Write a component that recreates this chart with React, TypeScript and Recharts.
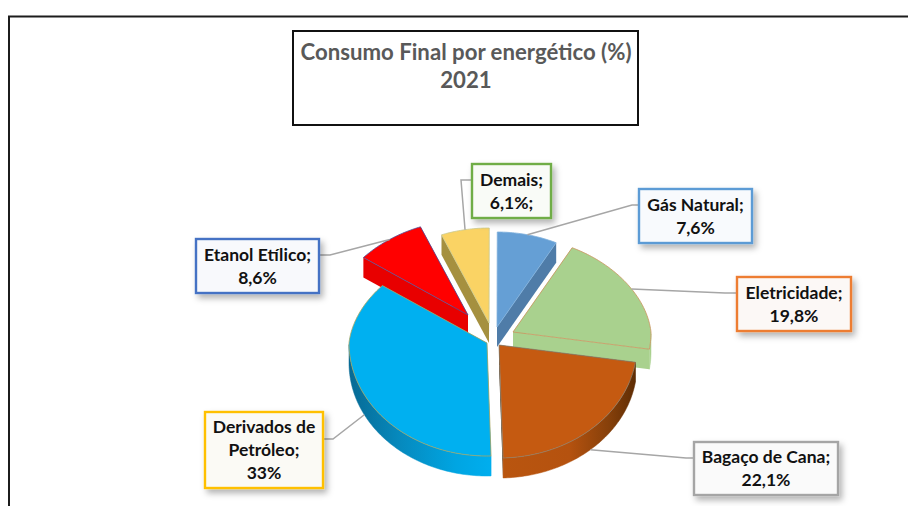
import React from 'react';
import { PieChart, Pie } from 'recharts';

// starts at Etanol so that Derivados is painted last and overlaps the red wedge
const categories = ['Etanol Etílico', 'Demais', 'Gás Natural', 'Eletricidade', 'Bagaço de Cana', 'Derivados de Petróleo'];
// the slice itself measures ~35.8 (completes 100%), even though its label says 33%
const values = [8.6, 6.1, 7.6, 19.8, 22.1, 35.8];
const labelLines = [
  ['Etanol Etílico;', '8,6%'],
  ['Demais;', '6,1%;'],
  ['Gás Natural;', '7,6%'],
  ['Eletricidade;', '19,8%'],
  ['Bagaço de Cana;', '22,1%'],
  ['Derivados de', 'Petróleo;', '33%'],
];
const titleLines = ['Consumo Final por energético (%)', '2021'];

const data = categories.map((name, i) => ({ name, value: values[i] }));

const FONT = 'Lato, sans-serif';
const CX = 490;
const CY = 335;
const RADIUS = 138;
const REAR = 95 / 138; // the far half of the disc looks flatter than the near half
const FRONT = 113 / 138;
const NARROW = 0.08; // and a bit narrower, perspective
const DEPTH = 20;

type SliceStyle = {
  dx: number; dy: number; top: string; side: string; rim: string; edge: string;
  box: [number, number, number, number]; border: string; boxFill: string; elbow: [number, number][];
};

const sliceStyles: SliceStyle[] = [
  { dx: -22, dy: -20, top: '#ff0000', side: '#e80000', rim: '#e80000', edge: '#4f4f9a', box: [196, 239, 123, 54], border: '#4472c4', boxFill: '#f8f9fc', elbow: [[330, 255], [319, 255]] },
  { dx: -1, dy: -12, top: '#fad364', side: '#a5903f', rim: '#a5903f', edge: '#c9c98f', box: [472, 164, 79, 54], border: '#70ad47', boxFill: '#f9fbf7', elbow: [[461, 180], [472, 180]] },
  { dx: 7, dy: -8, top: '#659fd5', side: '#4f7ca8', rim: '#4f7ca8', edge: '#7fb0dc', box: [639, 189, 113, 54], border: '#5b9bd5', boxFill: '#f8fafd', elbow: [[632, 205], [639, 205]] },
  { dx: 23, dy: -3, top: '#a9d18e', side: '#a9d18e', rim: '#a9d18e', edge: '#cc9460', box: [737, 277, 114, 54], border: '#ed7d31', boxFill: '#fcf8f6', elbow: [[725, 293], [737, 293]] },
  { dx: 9, dy: 10, top: '#c55a11', side: '#3a2a15', rim: 'url(#rimBrown)', edge: '#8f7f6a', box: [694, 442, 144, 53], border: '#a5a5a5', boxFill: '#fafafa', elbow: [[686, 458], [694, 458]] },
  { dx: -3, dy: 8, top: '#00b0f0', side: '#00a5e2', rim: 'url(#rimBlue)', edge: '#a9a65f', box: [205, 412, 118, 76], border: '#ffc000', boxFill: '#fbfaf5', elbow: [[333, 439], [323, 439]] },
];

const rad = (deg: number) => (deg * Math.PI) / 180;

// flattens a point of the circle onto the tilted disc
const project = (angle: number, r: number) => {
  const s = Math.sin(rad(angle));
  const narrow = s > 0 ? 1 - NARROW * s : 1;
  return { x: Math.cos(rad(angle)) * r * narrow, y: -s * r * (s > 0 ? REAR : FRONT) };
};

const toPath = (pts: { x: number; y: number }[]) =>
  pts.map((p, i) => `${i ? 'L' : 'M'}${p.x.toFixed(2)},${p.y.toFixed(2)}`).join(' ') + ' Z';

const arcPoints = (start: number, end: number, r: number, ox: number, oy: number) => {
  const steps = Math.max(2, Math.ceil(Math.abs(start - end)));
  const pts = [];
  for (let i = 0; i <= steps; i++) {
    const p = project(start + ((end - start) * i) / steps, r);
    pts.push({ x: ox + p.x, y: oy + p.y });
  }
  return pts;
};

function Slice(props: any) {
  const { cx, cy, outerRadius, startAngle, endAngle } = props;
  const st = sliceStyles[categories.indexOf(props.name ?? props.payload?.name)];
  const ox = cx + st.dx;
  const oy = cy + st.dy;
  const arc = arcPoints(startAngle, endAngle, outerRadius, ox, oy);
  const apex = { x: ox, y: oy };
  const down = (p: { x: number; y: number }) => ({ x: p.x, y: p.y + DEPTH });

  // near part of the outer wall
  const steps = Math.max(2, Math.ceil(Math.abs(startAngle - endAngle)));
  const near = [];
  for (let i = 0; i <= steps; i++) {
    const a = startAngle + ((endAngle - startAngle) * i) / steps;
    if (Math.sin(rad(a)) <= 0.001) near.push(arc[i]);
  }

  return (
    <g>
      <path d={toPath([apex, arc[0], down(arc[0]), down(apex)])} fill={st.side} />
      <path d={toPath([apex, arc[arc.length - 1], down(arc[arc.length - 1]), down(apex)])} fill={st.side} />
      {near.length > 1 && (
        <path d={toPath([...near, ...near.map(down).reverse()])} fill={st.rim} stroke={st.rim} strokeWidth={0.5} />
      )}
      <path d={toPath([apex, ...arc])} fill={st.top} stroke={st.edge} strokeWidth={0.8} strokeLinejoin="round" />
    </g>
  );
}

function SliceLabel(props: any) {
  const { cx, cy, outerRadius, midAngle, index } = props;
  const st = sliceStyles[index];
  const [x, y, w, h] = st.box;
  const p = project(midAngle, outerRadius);
  const startX = cx + st.dx + p.x;
  const startY = cy + st.dy + p.y + (Math.sin(rad(midAngle)) < 0 ? DEPTH : 0);
  const leader = [[startX, startY], ...st.elbow].map((q) => q.join(',')).join(' ');
  const lines = labelLines[index];
  const lineHeight = 23;
  const firstY = y + h / 2 - ((lines.length - 1) * lineHeight) / 2 + 6;
  return (
    <g>
      <polyline points={leader} fill="none" stroke="#a6a6a6" strokeWidth={1.5} />
      <rect x={x} y={y} width={w} height={h} fill={st.boxFill} stroke={st.border} strokeWidth={2.4} filter="url(#boxShadow)" />
      {lines.map((line, i) => (
        <text key={line} x={x + w / 2} y={firstY + i * lineHeight} textAnchor="middle" fontFamily={FONT} fontWeight={700} fontSize={17.5} fill="#111111">
          {line}
        </text>
      ))}
    </g>
  );
}

export default function App() {
  return (
    <div style={{ position: 'absolute', left: 0, top: 0, width: 908, height: 506, overflow: 'hidden', background: '#ffffff' }}>
      <PieChart width={908} height={506} margin={{ top: 0, right: 0, bottom: 0, left: 0 }}>
        <defs>
          <filter id="boxShadow" x="-15%" y="-20%" width="135%" height="150%">
            <feDropShadow dx={3} dy={4} stdDeviation={3} floodColor="#000000" floodOpacity={0.3} />
          </filter>
          <linearGradient id="rimBlue" x1="0" y1="0" x2="1" y2="0">
            <stop offset="0" stopColor="#076a94" />
            <stop offset="0.35" stopColor="#0689bd" />
            <stop offset="0.75" stopColor="#00a5e2" />
            <stop offset="1" stopColor="#00aeee" />
          </linearGradient>
          <linearGradient id="rimBrown" x1="0" y1="0" x2="1" y2="0">
            <stop offset="0" stopColor="#b9550f" />
            <stop offset="0.5" stopColor="#b5520f" />
            <stop offset="0.8" stopColor="#86400a" />
            <stop offset="1" stopColor="#5f2d04" />
          </linearGradient>
        </defs>
        <path d="M9,520 L9,16.5 L908,16.5" fill="none" stroke="#1c1c1c" strokeWidth={2} />
        <rect x={293} y={31} width={345} height={94} fill="#ffffff" stroke="#111111" strokeWidth={2} />
        {titleLines.map((line, i) => (
          <text key={line} x={466} y={59.5 + i * 28} textAnchor="middle" fontFamily={FONT} fontWeight={700} fontSize={22.2} fill="#595959">
            {line}
          </text>
        ))}
        <Pie
          data={data}
          dataKey="value"
          nameKey="name"
          cx={CX}
          cy={CY}
          innerRadius={0}
          outerRadius={RADIUS}
          startAngle={142.8}
          endAngle={-217.2}
          stroke="none"
          shape={Slice}
          label={SliceLabel}
          labelLine={false}
          isAnimationActive={false}
        />
      </PieChart>
    </div>
  );
}
